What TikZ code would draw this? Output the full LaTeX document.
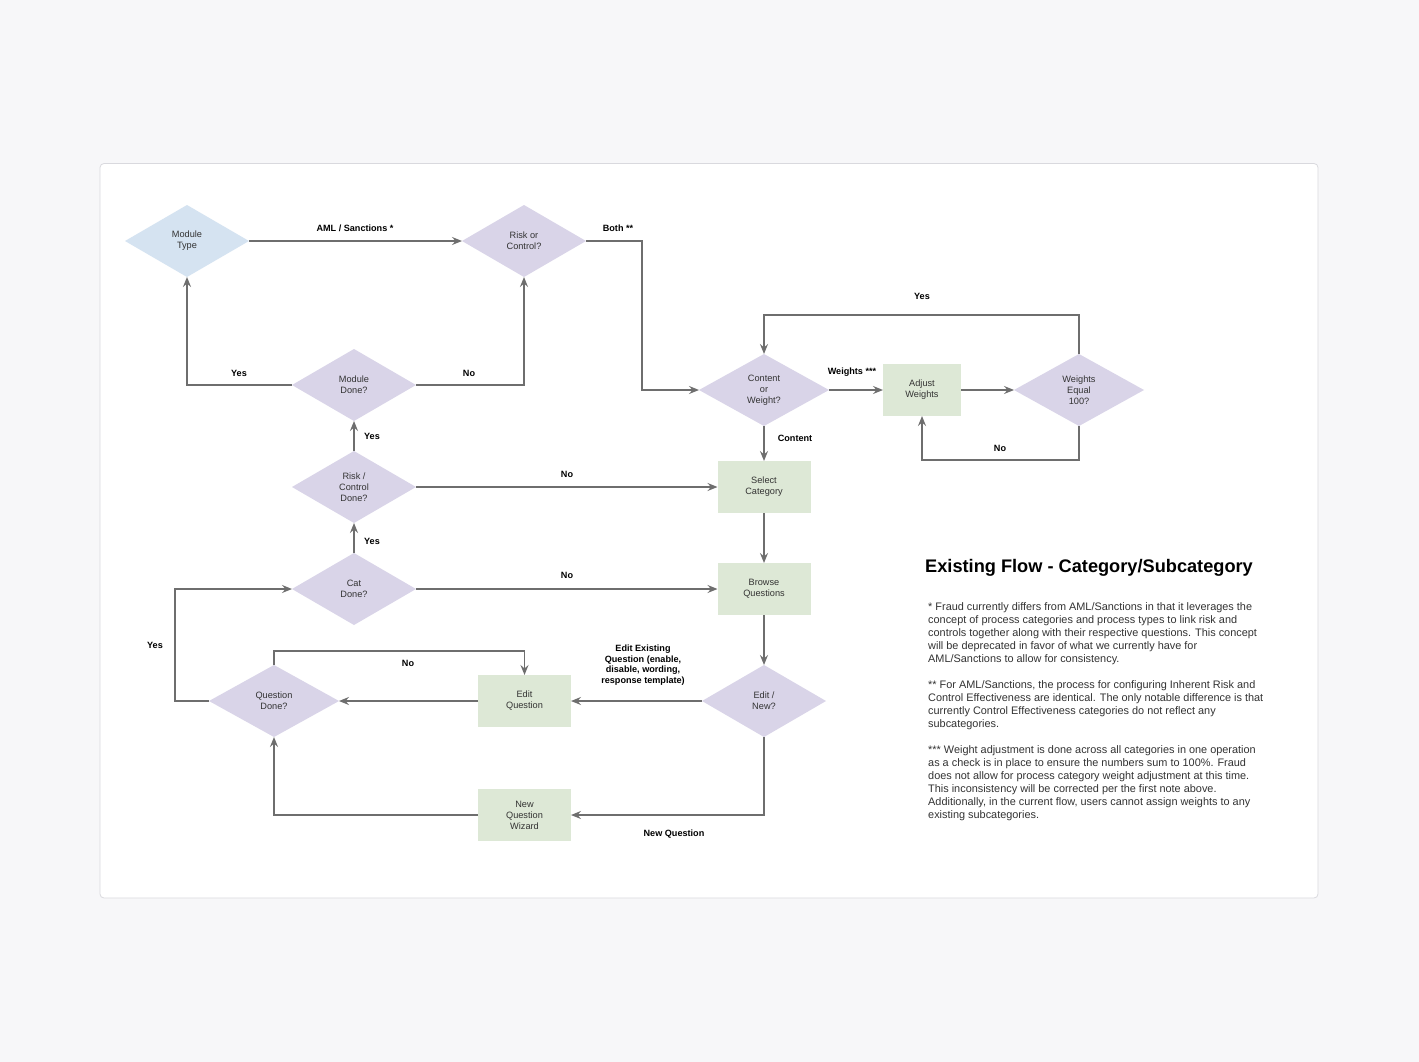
\documentclass[tikz,border=0pt]{standalone}
\usepackage{fontspec}
\setmainfont{Liberation Sans}
\usetikzlibrary{shapes.geometric,arrows.meta}
\definecolor{pagebg}{HTML}{F7F7F9}
\definecolor{cardline}{HTML}{D9D9DE}
\definecolor{diablue}{HTML}{D5E3F1}
\definecolor{dialav}{HTML}{D9D4E8}
\definecolor{boxgreen}{HTML}{DDE8D6}
\definecolor{linegray}{HTML}{6E6E6E}
\definecolor{txt}{HTML}{333333}
\tikzset{
  dia/.style={diamond, fill=dialav, minimum width=124pt, minimum height=72pt, inner sep=0pt, outer sep=0pt, align=center, text=txt, font=\fontsize{9.2}{11}\selectfont},
  wdia/.style={dia, minimum width=130pt},
  gbox/.style={rectangle, fill=boxgreen, minimum width=93pt, minimum height=52pt, inner sep=0pt, outer sep=0pt, align=center, text=txt, font=\fontsize{9.2}{11}\selectfont},
  lbl/.style={font=\bfseries\fontsize{9.1}{10.6}\selectfont, text=black, inner sep=0pt, align=center},
  conn/.style={draw=linegray, line width=1.5pt, -{Stealth[length=10pt,width=8pt,inset=3.5pt]}},
}
\begin{document}
\begin{tikzpicture}[x=1pt,y=-1pt]
\fill[pagebg] (0,0) rectangle (1419,1062);
\useasboundingbox (0,0) rectangle (1419,1062);
\draw[cardline, fill=white, rounded corners=4pt, line width=0.8pt] (100,163.5) rectangle (1318,898);

% nodes
\node[dia, fill=diablue] (mt) at (187,241) {Module\\Type};
\node[dia] (rc) at (524,241) {Risk or\\Control?};
\node[dia] (md) at (354,385) {Module\\Done?};
\node[dia] (rcd) at (354,487) {Risk /\\Control\\Done?};
\node[dia] (cd) at (354,589) {Cat\\Done?};
\node[wdia] (qd) at (274,701) {Question\\Done?};
\node[wdia] (cw) at (764,390) {Content\\or\\Weight?};
\node[wdia] (we) at (1079,390) {Weights\\Equal\\100?};
\node[dia] (en) at (764,701) {Edit /\\New?};
\node[gbox, minimum width=78pt] (aw) at (922,390) {Adjust\\Weights};
\node[gbox] (sc) at (764,487) {Select\\Category};
\node[gbox] (bq) at (764,589) {Browse\\Questions};
\node[gbox] (eq) at (524.5,701) {Edit\\Question};
\node[gbox] (nq) at (524.5,815) {New\\Question\\Wizard};

% connectors
\draw[conn] (mt.east) -- (rc.west);
\draw[conn] (rc.east) -- (642,241) -- (642,390) -- (cw.west);
\draw[conn] (md.west) -| (mt.south);
\draw[conn] (md.east) -| (rc.south);
\draw[conn] (rcd.north) -- (md.south);
\draw[conn] (rcd.east) -- (sc.west);
\draw[conn] (cd.north) -- (rcd.south);
\draw[conn] (cd.east) -- (bq.west);
\draw[conn] (cw.south) -- (sc.north);
\draw[conn] (cw.east) -- (aw.west);
\draw[conn] (aw.east) -- (we.west);
\draw[conn] (we.north) -- (1079,315) -- (764,315) -- (cw.north);
\draw[conn] (we.south) -- (1079,460) -- (922,460) -- (aw.south);
\draw[conn] (sc.south) -- (bq.north);
\draw[conn] (bq.south) -- (en.north);
\draw[conn] (en.west) -- (eq.east);
\draw[conn] (en.south) |- (nq.east);
\draw[conn] (eq.west) -- (qd.east);
\draw[conn] (nq.west) -| (qd.south);
\draw[conn] (qd.north) -- (274,651) -- (524.5,651) -- (eq.north);
\draw[conn] (qd.west) -- (175,701) -- (175,589) -- (cd.west);

% labels
\node[lbl] (l1) at (355,228) {AML / Sanctions *};
\node[lbl] (l2) at (618,228) {Both **};
\node[lbl] (l3) at (239,373) {Yes};
\node[lbl] (l4) at (469,373) {No};
\node[lbl] (l5) at (372,436) {Yes};
\node[lbl] (l6) at (567,474) {No};
\node[lbl] (l7) at (372,541) {Yes};
\node[lbl] (l8) at (567,575) {No};
\node[lbl] (l9) at (795,438) {Content};
\node[lbl] (l10) at (852,372) {Weights ***};
\node[lbl] (l11) at (922,296) {Yes};
\node[lbl] (l12) at (1000,448) {No};
\node[lbl] (l13) at (643,665) {Edit Existing\\Question (enable,\\disable, wording,\\response template)};
\node[lbl] (l14) at (674,834) {New Question};
\node[lbl] (l15) at (408,663) {No};
\node[lbl] (l16) at (155,645) {Yes};

% title and notes
\node[anchor=base west, inner sep=0pt, font=\bfseries\fontsize{18.2}{22}\selectfont, text=black] (title) at (925,572) {Existing Flow - Category/Subcategory};
\node[anchor=base west, inner sep=0pt, align=left, font=\fontsize{10.9}{13}\selectfont, text=txt] (notes) at (928,818) {%
* Fraud currently differs from AML/Sanctions in that it leverages the\\
concept of process categories and process types to link risk and\\
controls together along with their respective questions. This concept\\
will be deprecated in favor of what we currently have for\\
AML/Sanctions to allow for consistency.\\[13pt]
** For AML/Sanctions, the process for configuring Inherent Risk and\\
Control Effectiveness are identical. The only notable difference is that\\
currently Control Effectiveness categories do not reflect any\\
subcategories.\\[13pt]
*** Weight adjustment is done across all categories in one operation\\
as a check is in place to ensure the numbers sum to 100\%. Fraud\\
does not allow for process category weight adjustment at this time.\\
This inconsistency will be corrected per the first note above.\\
Additionally, in the current flow, users cannot assign weights to any\\
existing subcategories.};
\end{tikzpicture}
\end{document}
